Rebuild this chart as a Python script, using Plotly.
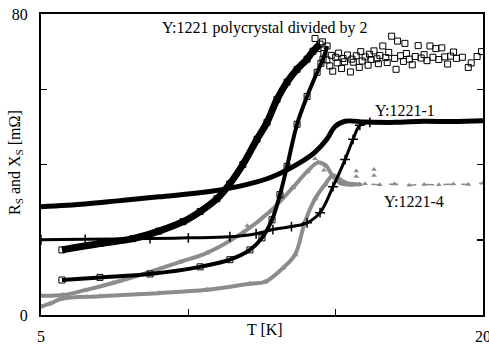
import plotly.graph_objects as go

# ---- data ----
# Y:1221 polycrystal (divided by 2) - reactance Xs (upper branch)
poly_xs_T = [5.71, 7.0, 8.12, 9.0, 9.82, 10.4, 10.97, 11.4, 11.85, 12.33, 12.67, 13.01, 13.35, 13.69, 14.03, 14.23, 14.47]
poly_xs_y = [17.3, 19.0, 20.3, 22.3, 24.8, 27.5, 30.9, 34.8, 40.0, 46.7, 51.2, 57.3, 61.9, 65.3, 68.0, 70.1, 72.0]
# Y:1221 polycrystal - resistance Rs (lower branch)
poly_rs_T = [5.71, 7.0, 8.7, 10.4, 11.41, 12.09, 12.5, 12.84, 13.11, 13.35, 13.69, 14.03, 14.37, 14.57, 14.71]
poly_rs_y = [9.3, 10.0, 10.9, 12.8, 14.7, 17.3, 20.5, 25.3, 32.0, 39.5, 50.7, 58.1, 64.5, 68.0, 71.5]
# polycrystal normal state (scattered squares)
poly_n_T = [14.3, 14.4, 14.5, 14.55, 14.6, 14.7, 14.8, 14.85, 14.9, 15.0, 15.05, 15.1, 15.2, 15.25, 15.3,
            15.4, 15.5, 15.55, 15.6, 15.7, 15.8, 15.85, 15.9, 16.0, 16.1, 16.15, 16.2, 16.3, 16.4, 16.45,
            16.5, 16.6, 16.7, 16.75, 16.8, 16.9, 17.0, 17.05, 17.1, 17.2, 17.3, 17.35, 17.4, 17.5, 17.6,
            17.7, 17.8, 17.9, 18.0, 18.1, 18.2, 18.3, 18.4, 18.5, 18.6, 18.7, 18.8, 18.9, 19.0, 19.1,
            19.3, 19.5, 19.6, 19.8, 19.95]
poly_n_y = [73.5, 70.8, 66.9, 72.6, 69.5, 67.8, 66.2, 69.0, 64.8, 68.5, 67.0, 69.6, 65.5, 68.2, 67.3,
            69.1, 64.6, 68.0, 67.2, 68.9, 65.8, 70.0, 67.5, 68.6, 66.4, 69.3, 67.9, 70.2, 68.1, 66.8,
            69.0, 71.5, 68.4, 67.1, 69.8, 74.1, 68.2, 65.3, 72.8, 68.9, 67.4, 72.2, 69.5, 68.0, 66.5,
            68.7, 71.6, 68.3, 69.2, 67.6, 71.5, 68.5, 70.8, 67.9, 71.0, 68.6, 66.7, 68.8, 69.9, 68.2,
            68.5, 65.8, 67.0, 68.7, 70.0]

# Y:1221-1 single crystal
s1_xs_T = [5.0, 6.5, 7.68, 9.0, 10.73, 12.0, 12.87, 13.79, 14.3, 14.7, 14.98, 15.32, 16.0, 17.0, 18.0, 19.0, 20.0]
s1_xs_y = [28.8, 29.5, 30.4, 31.4, 32.8, 34.7, 36.8, 40.5, 43.3, 46.7, 50.1, 51.5, 51.3, 51.2, 51.5, 51.4, 51.6]
s1_rs_T = [5.0, 6.5, 8.7, 10.0, 11.41, 12.3, 12.87, 13.5, 14.03, 14.47, 14.91, 15.32, 15.59, 15.82, 16.16]
s1_rs_y = [20.0, 20.1, 20.3, 20.5, 20.8, 21.6, 22.7, 23.5, 24.5, 27.2, 34.1, 41.3, 46.7, 50.4, 51.2]

# Y:1221-4 single crystal
s4_xs_T = [5.0, 5.75, 6.5, 7.44, 8.6, 9.72, 10.63, 11.85, 12.77, 13.55, 14.03, 14.4, 14.67, 14.91, 15.21, 15.65]
s4_xs_y = [5.1, 5.3, 6.6, 8.5, 11.2, 14.1, 16.5, 21.9, 27.5, 33.9, 38.1, 40.5, 39.7, 36.8, 34.9, 34.7]
s4_rs_T = [5.0, 5.3, 5.7, 7.0, 9.0, 10.63, 12.09, 12.6, 13.21, 13.62, 13.96, 14.3, 14.64, 14.91, 15.32, 15.82]
s4_rs_y = [2.2, 3.0, 4.3, 5.0, 5.8, 6.7, 8.3, 8.8, 12.5, 16.0, 24.8, 30.9, 34.7, 37.1, 35.2, 34.7]
s4_n_T = [15.6, 16.0, 16.5, 17.0, 17.5, 18.0, 18.5, 19.0, 19.5, 20.0]
s4_n_y = [34.7, 34.9, 34.6, 34.8, 34.5, 34.7, 34.6, 34.8, 34.7, 35.0]
s4_extra_T = [11.4, 12.0, 15.7, 15.7, 16.3, 16.3, 14.3, 14.6]
s4_extra_y = [20.0, 23.7, 36.8, 38.3, 37.1, 38.7, 41.5, 38.5]

x_ticks = [5, 10, 15, 20]
x_tick_text = ["5", "", "", "20"]
y_ticks = [0, 20, 40, 60, 80]
y_tick_text = ["0", "", "", "", "80"]

GREY = "#8c8c8c"
fig = go.Figure()

# 1221-4 (grey triangles)
fig.add_trace(go.Scatter(x=s4_n_T, y=s4_n_y, mode="lines+markers",
                         line=dict(color=GREY, width=1.5, dash="dash"),
                         marker=dict(symbol="triangle-up", size=5, color=GREY)))
fig.add_trace(go.Scatter(x=s4_extra_T, y=s4_extra_y, mode="markers",
                         marker=dict(symbol="triangle-up", size=5, color=GREY)))
for tx, ty, w in [(s4_xs_T, s4_xs_y, 4), (s4_rs_T, s4_rs_y, 4)]:
    fig.add_trace(go.Scatter(x=tx, y=ty, mode="lines+markers", line=dict(color=GREY, width=w, shape="spline"),
                             marker=dict(symbol="triangle-up", size=6, color=GREY)))

# 1221-1 (black crosses)
fig.add_trace(go.Scatter(x=s1_xs_T, y=s1_xs_y, mode="lines", line=dict(color="black", width=5, shape="spline")))
fig.add_trace(go.Scatter(x=s1_rs_T, y=s1_rs_y, mode="lines+markers", line=dict(color="black", width=3, shape="spline"),
                         marker=dict(symbol="cross-thin-open", size=7, color="black", line=dict(width=1.5, color="black"))))

# polycrystal (open squares)
fig.add_trace(go.Scatter(x=poly_xs_T, y=poly_xs_y, mode="lines+markers", line=dict(color="black", width=7, shape="spline"),
                         marker=dict(symbol="square-open", size=6, color="black", line=dict(width=1))))
fig.add_trace(go.Scatter(x=poly_rs_T, y=poly_rs_y, mode="lines+markers", line=dict(color="black", width=4, shape="spline"),
                         marker=dict(symbol="square-open", size=6, color="black", line=dict(width=1))))
fig.add_trace(go.Scatter(x=poly_n_T, y=poly_n_y, mode="markers",
                         marker=dict(symbol="square-open", size=6, color="black", line=dict(width=1))))

FONT = "Liberation Serif"
W, H = 489, 345
L, R, T, B = 41, 6, 14, 30
fig.update_layout(
    width=W, height=H,
    margin=dict(l=L, r=R, t=T, b=B, autoexpand=False),
    paper_bgcolor="white", plot_bgcolor="white",
    showlegend=False,
    font=dict(family=FONT, size=16, color="black"),
    xaxis=dict(range=[5, 20], tickvals=x_ticks, ticktext=x_tick_text, ticks="inside", ticklen=6,
               tickwidth=1.5, tickcolor="black", showline=True, linecolor="black", linewidth=2,
               mirror=True, showgrid=False, zeroline=False, ticklabelstandoff=6, automargin=False,
               ticklabeloverflow="allow", tickfont=dict(family=FONT, size=16)),
    yaxis=dict(range=[0, 80], tickvals=y_ticks, ticktext=y_tick_text, ticks="inside", ticklen=6,
               tickwidth=1.5, tickcolor="black", showline=True, linecolor="black", linewidth=2,
               mirror="ticks", showgrid=False, zeroline=False, ticklabelstandoff=8, automargin=False,
               ticklabeloverflow="allow", tickfont=dict(family=FONT, size=16)),
)

# text labels placed at pixel positions (converted to paper coordinates)
pw, ph = W - L - R, H - T - B
labels = [
    ("Y:1221 polycrystal divided by 2", 265, 28, 0),
    ("Y:1221-1", 405, 110, 0),
    ("Y:1221-4", 414, 201, 0),
    ("T [K]", 265, 329, 0),
    ("R<sub>S</sub> and X<sub>S</sub> [mΩ]", 15, 163, -90),
]
for txt, px, py, ang in labels:
    fig.add_annotation(text=txt, x=(px - L) / pw, y=(H - B - py) / ph, xref="paper", yref="paper",
                       xanchor="center", yanchor="middle", showarrow=False, textangle=ang,
                       font=dict(family=FONT, size=16))

fig.write_html("out.html", config=dict(displayModeBar=False, staticPlot=True))
